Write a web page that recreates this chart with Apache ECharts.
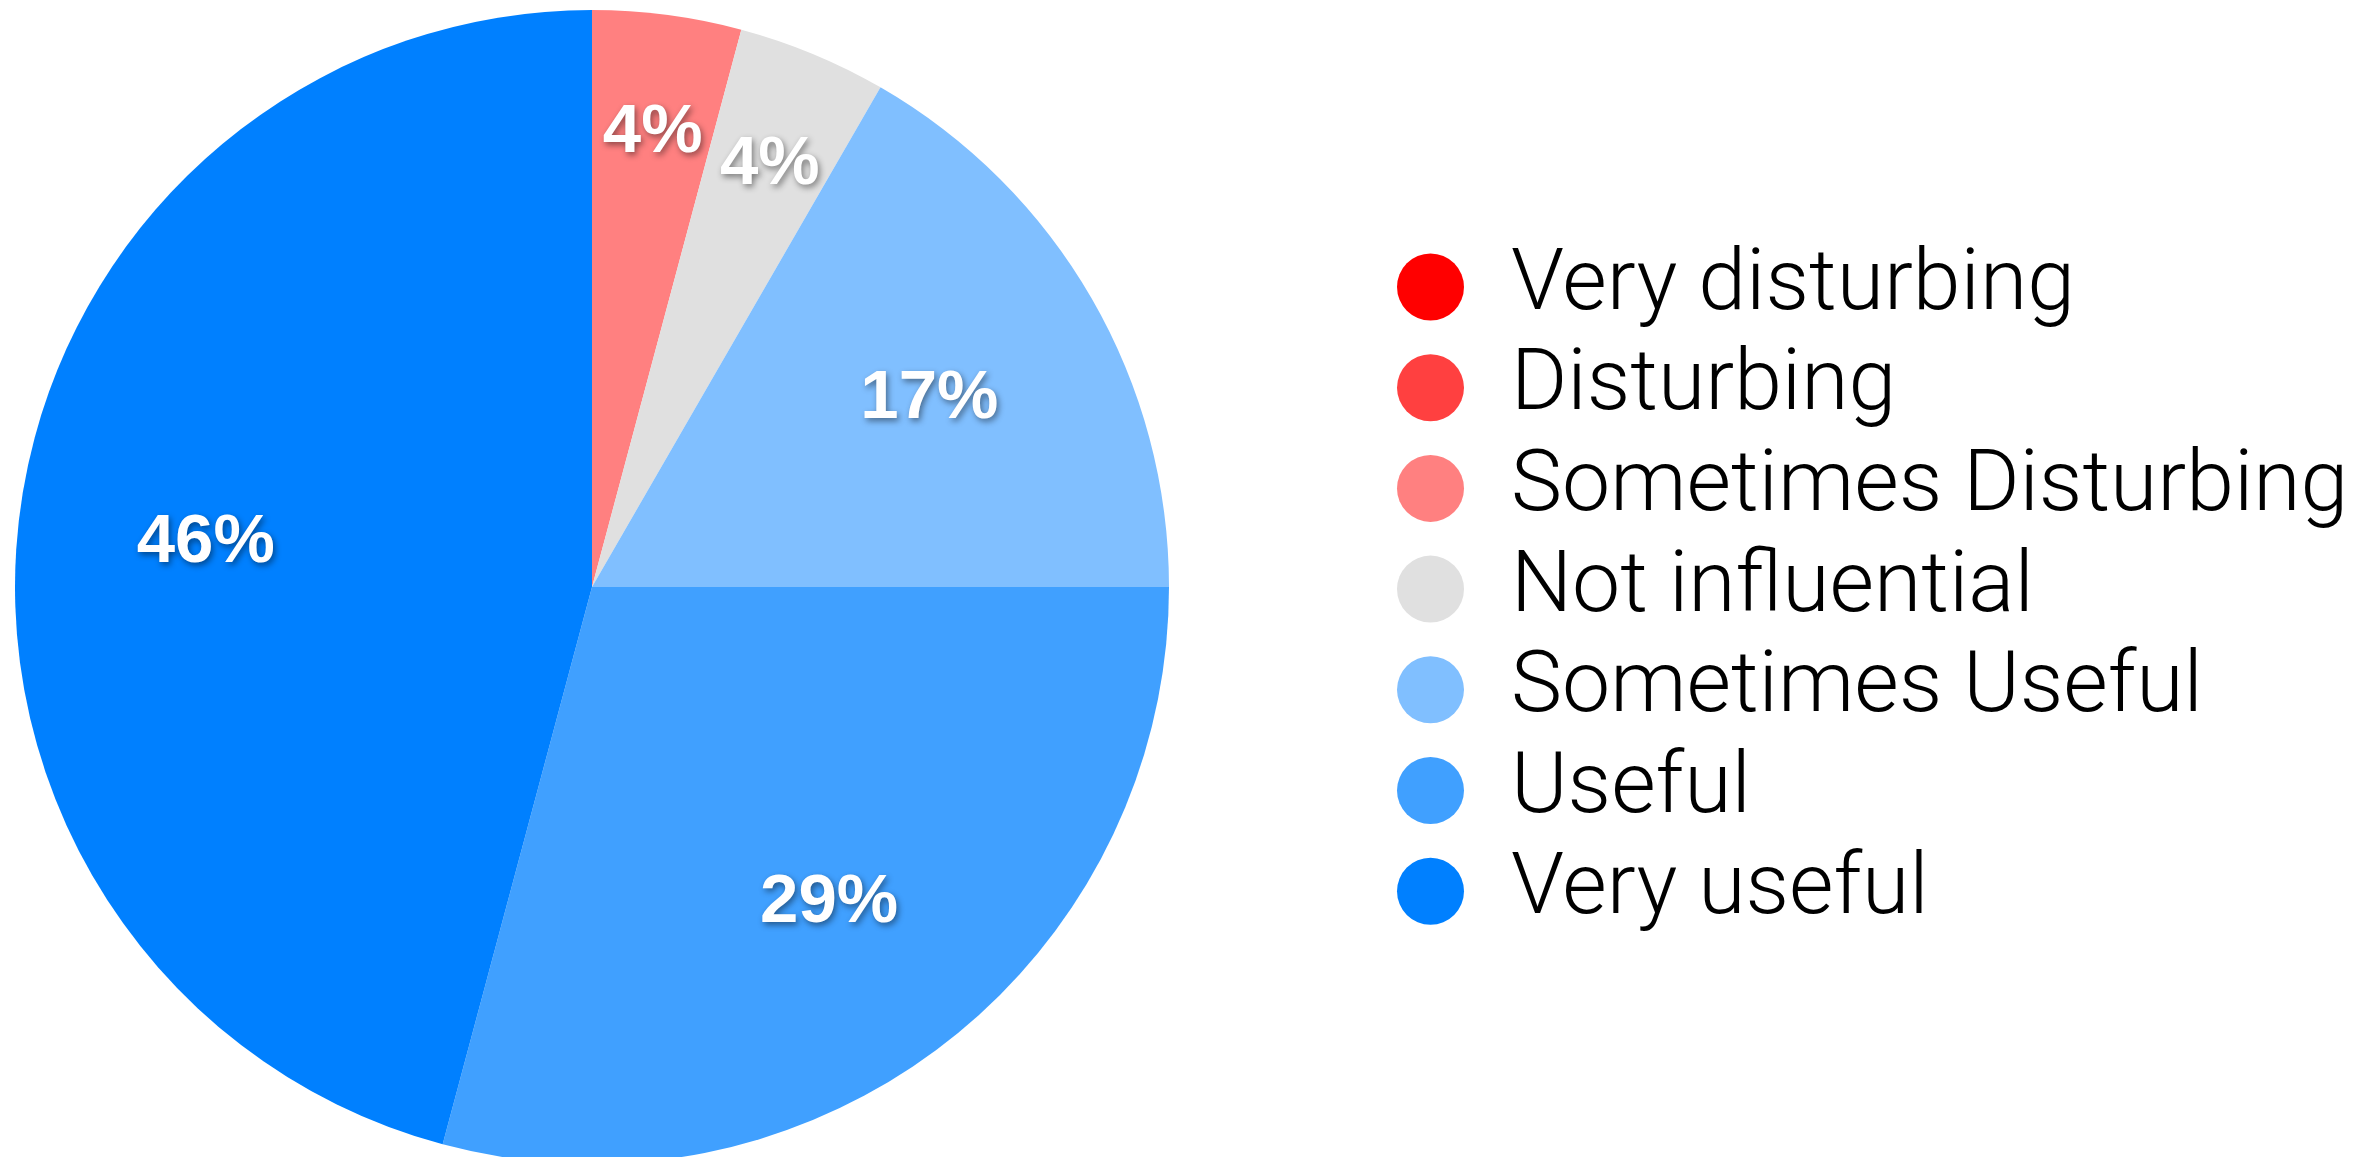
<!DOCTYPE html>
<html>
<head>
<meta charset="utf-8">
<script src="https://cdn.jsdelivr.net/npm/echarts@6/dist/echarts.min.js"></script>
<style>
html,body{margin:0;padding:0;background:#fff;}
#chart{width:2369px;height:1157px;}
</style>
</head>
<body>
<div id="chart"></div>
<script>
const categories = ['Very disturbing', 'Disturbing', 'Sometimes Disturbing', 'Not influential', 'Sometimes Useful', 'Useful', 'Very useful'];
const counts = [0, 0, 1, 1, 4, 7, 11];
const colors = ['#FF0000', '#FF4040', '#FF8080', '#E0E0E0', '#80BFFF', '#40A0FF', '#0080FF'];

const total = counts.reduce((a, b) => a + b, 0);
const R = 577;
const center = [592, 587];
const pct = v => Math.round(v / total * 100);

const baseData = categories.map((name, i) => ({ name, value: counts[i], itemStyle: { color: colors[i] } }));

const labelStyle = {
  show: true,
  position: 'inside',
  color: '#fff',
  fontFamily: 'Liberation Sans, Arial, sans-serif',
  fontWeight: 'bold',
  fontSize: 69,
  offset: [0, 7],
  textShadowColor: 'rgba(0,0,0,0.45)',
  textShadowBlur: 6,
  textShadowOffsetX: 2,
  textShadowOffsetY: 3
};

function labelSeries(r0, pred) {
  return {
    type: 'pie',
    silent: true,
    center: center,
    radius: [r0, R],
    startAngle: 90,
    clockwise: true,
    avoidLabelOverlap: false,
    labelLine: { show: false },
    itemStyle: { color: 'rgba(0,0,0,0)', borderWidth: 0 },
    label: Object.assign({}, labelStyle, {
      formatter: p => (p.value > 0 && pred(p.value)) ? pct(p.value) + '%' : ''
    }),
    emphasis: { disabled: true },
    data: categories.map((name, i) => ({ name: name + ' ', value: counts[i] })),
    z: 3
  };
}

const chart = echarts.init(document.getElementById('chart'));
chart.setOption({
  animation: false,
  backgroundColor: '#fff',
  legend: {
    orient: 'vertical',
    left: 1392,
    top: 239,
    icon: 'circle',
    itemWidth: 67,
    itemHeight: 67,
    itemGap: 14.7,
    data: categories,
    selectedMode: false,
    textStyle: {
      color: '#000',
      fontFamily: 'Roboto, Liberation Sans, sans-serif',
      fontWeight: 300,
      fontSize: 86,
      padding: [0, 0, 0, 42]
    }
  },
  series: [
    {
      type: 'pie',
      center: center,
      radius: [0, R],
      startAngle: 90,
      clockwise: true,
      label: { show: false },
      labelLine: { show: false },
      itemStyle: { borderWidth: 0 },
      emphasis: { disabled: true },
      data: baseData,
      z: 2
    },
    labelSeries(0.34 * R, v => v / total >= 0.1),
    labelSeries(0.6 * R, v => v / total < 0.1)
  ]
});
</script>
</body>
</html>
